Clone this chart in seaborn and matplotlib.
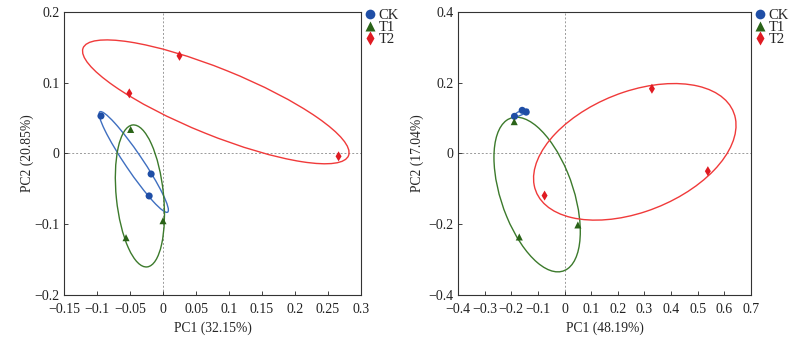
import numpy as np
import pandas as pd
import matplotlib
matplotlib.use("Agg")
import matplotlib.pyplot as plt
from matplotlib.patches import Ellipse
import seaborn as sns

groups = ["CK", "CK", "CK", "T1", "T1", "T1", "T2", "T2", "T2"]

# Left panel
pc1_a = [-0.094, -0.018, -0.021, -0.049, 0.000, -0.056, 0.025, -0.051, 0.266]
pc2_a = [0.053, -0.029, -0.060, 0.034, -0.095, -0.119, 0.138, 0.085, -0.004]
# Right panel
pc1_b = [-0.188, -0.159, -0.144, -0.189, -0.170, 0.050, 0.328, 0.538, -0.075]
pc2_b = [0.105, 0.122, 0.117, 0.090, -0.236, -0.202, 0.183, -0.050, -0.119]

xlabels = ["PC1 (32.15%)", "PC1 (48.19%)"]
ylabels = ["PC2 (20.85%)", "PC2 (17.04%)"]
xticks_a = [-0.15, -0.1, -0.05, 0, 0.05, 0.1, 0.15, 0.2, 0.25, 0.3]
yticks_a = [-0.2, -0.1, 0, 0.1, 0.2]
xticks_b = [-0.4, -0.3, -0.2, -0.1, 0, 0.1, 0.2, 0.3, 0.4, 0.5, 0.6, 0.7]
yticks_b = [-0.4, -0.2, 0, 0.2, 0.4]

marker_colors = {"CK": "#1f4ea6", "T1": "#2a6318", "T2": "#e01b22"}
ellipse_colors = {"CK": "#3f6fc0", "T1": "#3c7a2c", "T2": "#f03a3a"}
markers = {"CK": "o", "T1": "^", "T2": "d"}

sns.set_theme(style="white")
plt.rcParams["font.family"] = ["Liberation Serif", "DejaVu Serif"]

fig = plt.figure(figsize=(8.01, 3.4), dpi=100)
ax_a = fig.add_axes([0.0799, 0.1324, 0.3708, 0.8323])
ax_b = fig.add_axes([0.5718, 0.1324, 0.3658, 0.8323])

def fmt(v):
    if abs(v) < 1e-12:
        return "0"
    s = ("%g" % v)
    return s.replace("-", "\u2212")

def panel(ax, x, y, xt, yt, xl, yl, ylab_x):
    df = pd.DataFrame({"x": x, "y": y, "g": groups})
    ax.axhline(0, color="#9a9a9a", lw=0.7, ls=(0, (2, 2)), zorder=0)
    ax.axvline(0, color="#9a9a9a", lw=0.7, ls=(0, (2, 2)), zorder=0)
    for g in ["CK", "T1", "T2"]:
        sub = df[df.g == g]
        pts = sub[["x", "y"]].to_numpy()
        mu = pts.mean(axis=0)
        cov = np.cov(pts.T)
        vals, vecs = np.linalg.eigh(cov)
        order = vals.argsort()[::-1]
        vals, vecs = vals[order], vecs[:, order]
        ang = np.degrees(np.arctan2(vecs[1, 0], vecs[0, 0]))
        k = 1.22
        w, h = 2 * k * np.sqrt(vals[0]), 2 * k * np.sqrt(max(vals[1], 0))
        ax.add_patch(Ellipse(mu, w, h, angle=ang, fill=False,
                             edgecolor=ellipse_colors[g], lw=1.0, zorder=2))
    sns.scatterplot(data=df, x="x", y="y", hue="g", style="g",
                    palette=marker_colors, markers=markers, s=26,
                    edgecolor="none", ax=ax, zorder=3)
    ax.set_xlim(xt[0], xt[-1])
    ax.set_ylim(yt[0], yt[-1])
    ax.set_xticks(xt)
    ax.set_yticks(yt)
    ax.set_xticklabels([fmt(v) for v in xt])
    ax.set_yticklabels([fmt(v) for v in yt])
    ax.tick_params(direction="in", length=3, width=0.6, labelsize=10,
                   colors="#222222", bottom=True, left=True)
    ax.tick_params(axis="x", pad=6)
    ax.tick_params(axis="y", pad=3)
    for sp in ax.spines.values():
        sp.set_color("#333333")
        sp.set_linewidth(0.8)
    ax.set_xlabel(xl, fontsize=9.8, labelpad=4)
    ax.set_ylabel(yl, fontsize=9.8)
    ax.yaxis.set_label_coords(ylab_x, 0.5)
    leg = ax.legend(loc="upper left", bbox_to_anchor=(1.005, 1.01), frameon=False,
                    fontsize=10.5, handletextpad=0.1, labelspacing=-0.1,
                    borderaxespad=0, handlelength=1.0, borderpad=0)
    for h in leg.legend_handles:
        h.set_markersize(7)

panel(ax_a, pc1_a, pc2_a, xticks_a, yticks_a, xlabels[0], ylabels[0], -0.10)
panel(ax_b, pc1_b, pc2_b, xticks_b, yticks_b, xlabels[1], ylabels[1], -0.115)

fig.savefig("out.png", dpi=100)
